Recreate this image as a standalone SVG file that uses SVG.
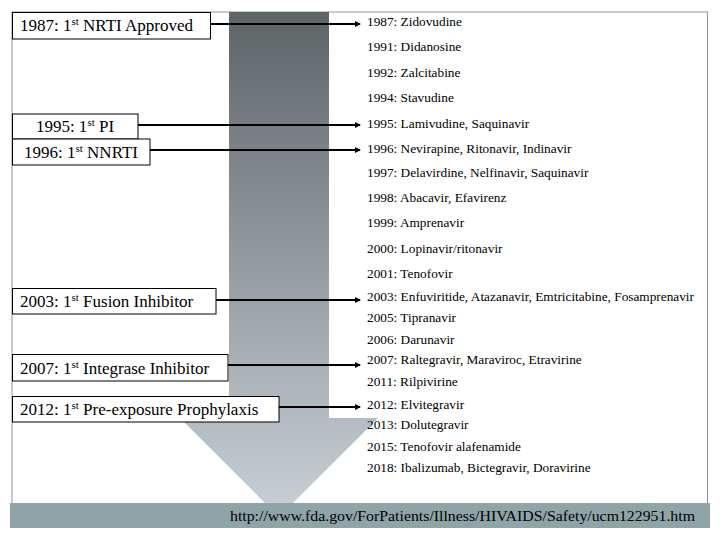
<svg xmlns="http://www.w3.org/2000/svg" width="720" height="540" viewBox="0 0 720 540">
<style>
.box{fill:#fff;stroke:#000;stroke-width:1}
.lbl{font-family:"Liberation Serif","DejaVu Serif",serif;font-size:17px;fill:#000}
.item{font-family:"Liberation Serif","DejaVu Serif",serif;font-size:13.3px;fill:#000}
.con{stroke:#000;stroke-width:2;fill:none;marker-end:url(#ah)}
</style>
<defs>
<linearGradient id="g" x1="0" y1="12" x2="0" y2="520" gradientUnits="userSpaceOnUse">
<stop offset="0" stop-color="#5e6366"/>
<stop offset="0.45" stop-color="#8f969c"/>
<stop offset="1" stop-color="#c9d1d7"/>
</linearGradient>
<marker id="ah" markerWidth="6" markerHeight="6" refX="5" refY="3" orient="auto" markerUnits="userSpaceOnUse">
<path d="M0,0 L6,3 L0,6 Z" fill="#000"/>
</marker>
</defs>
<rect width="720" height="540" fill="#fff"/>
<rect x="12" y="12" width="695.5" height="492" fill="none" stroke="#8a9499" stroke-width="1"/>
<g id="big-arrow">
<path d="M229,12 H329 V418 H378 L279,517 L180,418 H229 Z" fill="url(#g)"/>
</g>
<g id="footer">
<rect x="10" y="503" width="700" height="25" fill="#8ea4a7"/>
<text x="230" y="521" textLength="465" lengthAdjust="spacingAndGlyphs" font-family="Liberation Serif, DejaVu Serif, serif" font-size="15.5" fill="#000">http://www.fda.gov/ForPatients/Illness/HIVAIDS/Safety/ucm122951.htm</text>
</g>
<g id="connectors">
<line class="con" x1="211" y1="24" x2="360" y2="24"/>
<line class="con" x1="138" y1="125" x2="360" y2="125"/>
<line class="con" x1="150" y1="150" x2="360" y2="150"/>
<line class="con" x1="216" y1="300" x2="360" y2="300"/>
<line class="con" x1="228" y1="365" x2="360" y2="365"/>
<line class="con" x1="279" y1="407" x2="360" y2="407"/>
</g>
<g id="n1987">
<rect class="box" x="12.5" y="12.5" width="198" height="26.5"/>
<text class="lbl" x="20" y="31">1987: 1<tspan font-size="11" dy="-6">st</tspan><tspan dy="6"> NRTI Approved</tspan></text>
</g>
<g id="n1995">
<rect class="box" x="12.5" y="114" width="125.5" height="25"/>
<text class="lbl" x="75" y="132" text-anchor="middle">1995: 1<tspan font-size="11" dy="-6">st</tspan><tspan dy="6"> PI</tspan></text>
</g>
<g id="n1996">
<rect class="box" x="12.5" y="139" width="137.5" height="26"/>
<text class="lbl" x="81" y="157.5" text-anchor="middle">1996: 1<tspan font-size="11" dy="-6">st</tspan><tspan dy="6"> NNRTI</tspan></text>
</g>
<g id="n2003">
<rect class="box" x="12.5" y="288.5" width="203.5" height="25.5"/>
<text class="lbl" x="20" y="306.5">2003: 1<tspan font-size="11" dy="-6">st</tspan><tspan dy="6"> Fusion Inhibitor</tspan></text>
</g>
<g id="n2007">
<rect class="box" x="12.5" y="354.5" width="215.5" height="26.5"/>
<text class="lbl" x="20" y="373.5">2007: 1<tspan font-size="11" dy="-6">st</tspan><tspan dy="6"> Integrase Inhibitor</tspan></text>
</g>
<g id="n2012">
<rect class="box" x="12.5" y="396.5" width="266.5" height="25.5"/>
<text class="lbl" x="20" y="414.5">2012: 1<tspan font-size="11" dy="-6">st</tspan><tspan dy="6"> Pre-exposure Prophylaxis</tspan></text>
</g>
<g id="drug-list">
<text class="item" x="367" y="26">1987: Zidovudine</text>
<text class="item" x="367" y="51">1991: Didanosine</text>
<text class="item" x="367" y="77">1992: Zalcitabine</text>
<text class="item" x="367" y="102">1994: Stavudine</text>
<text class="item" x="367" y="128">1995: Lamivudine, Saquinavir</text>
<text class="item" x="367" y="153">1996: Nevirapine, Ritonavir, Indinavir</text>
<text class="item" x="367" y="177">1997: Delavirdine, Nelfinavir, Saquinavir</text>
<text class="item" x="367" y="202">1998: Abacavir, Efavirenz</text>
<text class="item" x="367" y="227">1999: Amprenavir</text>
<text class="item" x="367" y="253">2000: Lopinavir/ritonavir</text>
<text class="item" x="367" y="278">2001: Tenofovir</text>
<text class="item" x="367" y="301">2003: Enfuviritide, Atazanavir, Emtricitabine, Fosamprenavir</text>
<text class="item" x="367" y="322">2005: Tipranavir</text>
<text class="item" x="367" y="344">2006: Darunavir</text>
<text class="item" x="367" y="364">2007: Raltegravir, Maraviroc, Etravirine</text>
<text class="item" x="367" y="386">2011: Rilpivirine</text>
<text class="item" x="367" y="409">2012: Elvitegravir</text>
<text class="item" x="367" y="429">2013: Dolutegravir</text>
<text class="item" x="367" y="451">2015: Tenofovir alafenamide</text>
<text class="item" x="367" y="472">2018: Ibalizumab, Bictegravir, Doravirine</text>
</g>
</svg>
